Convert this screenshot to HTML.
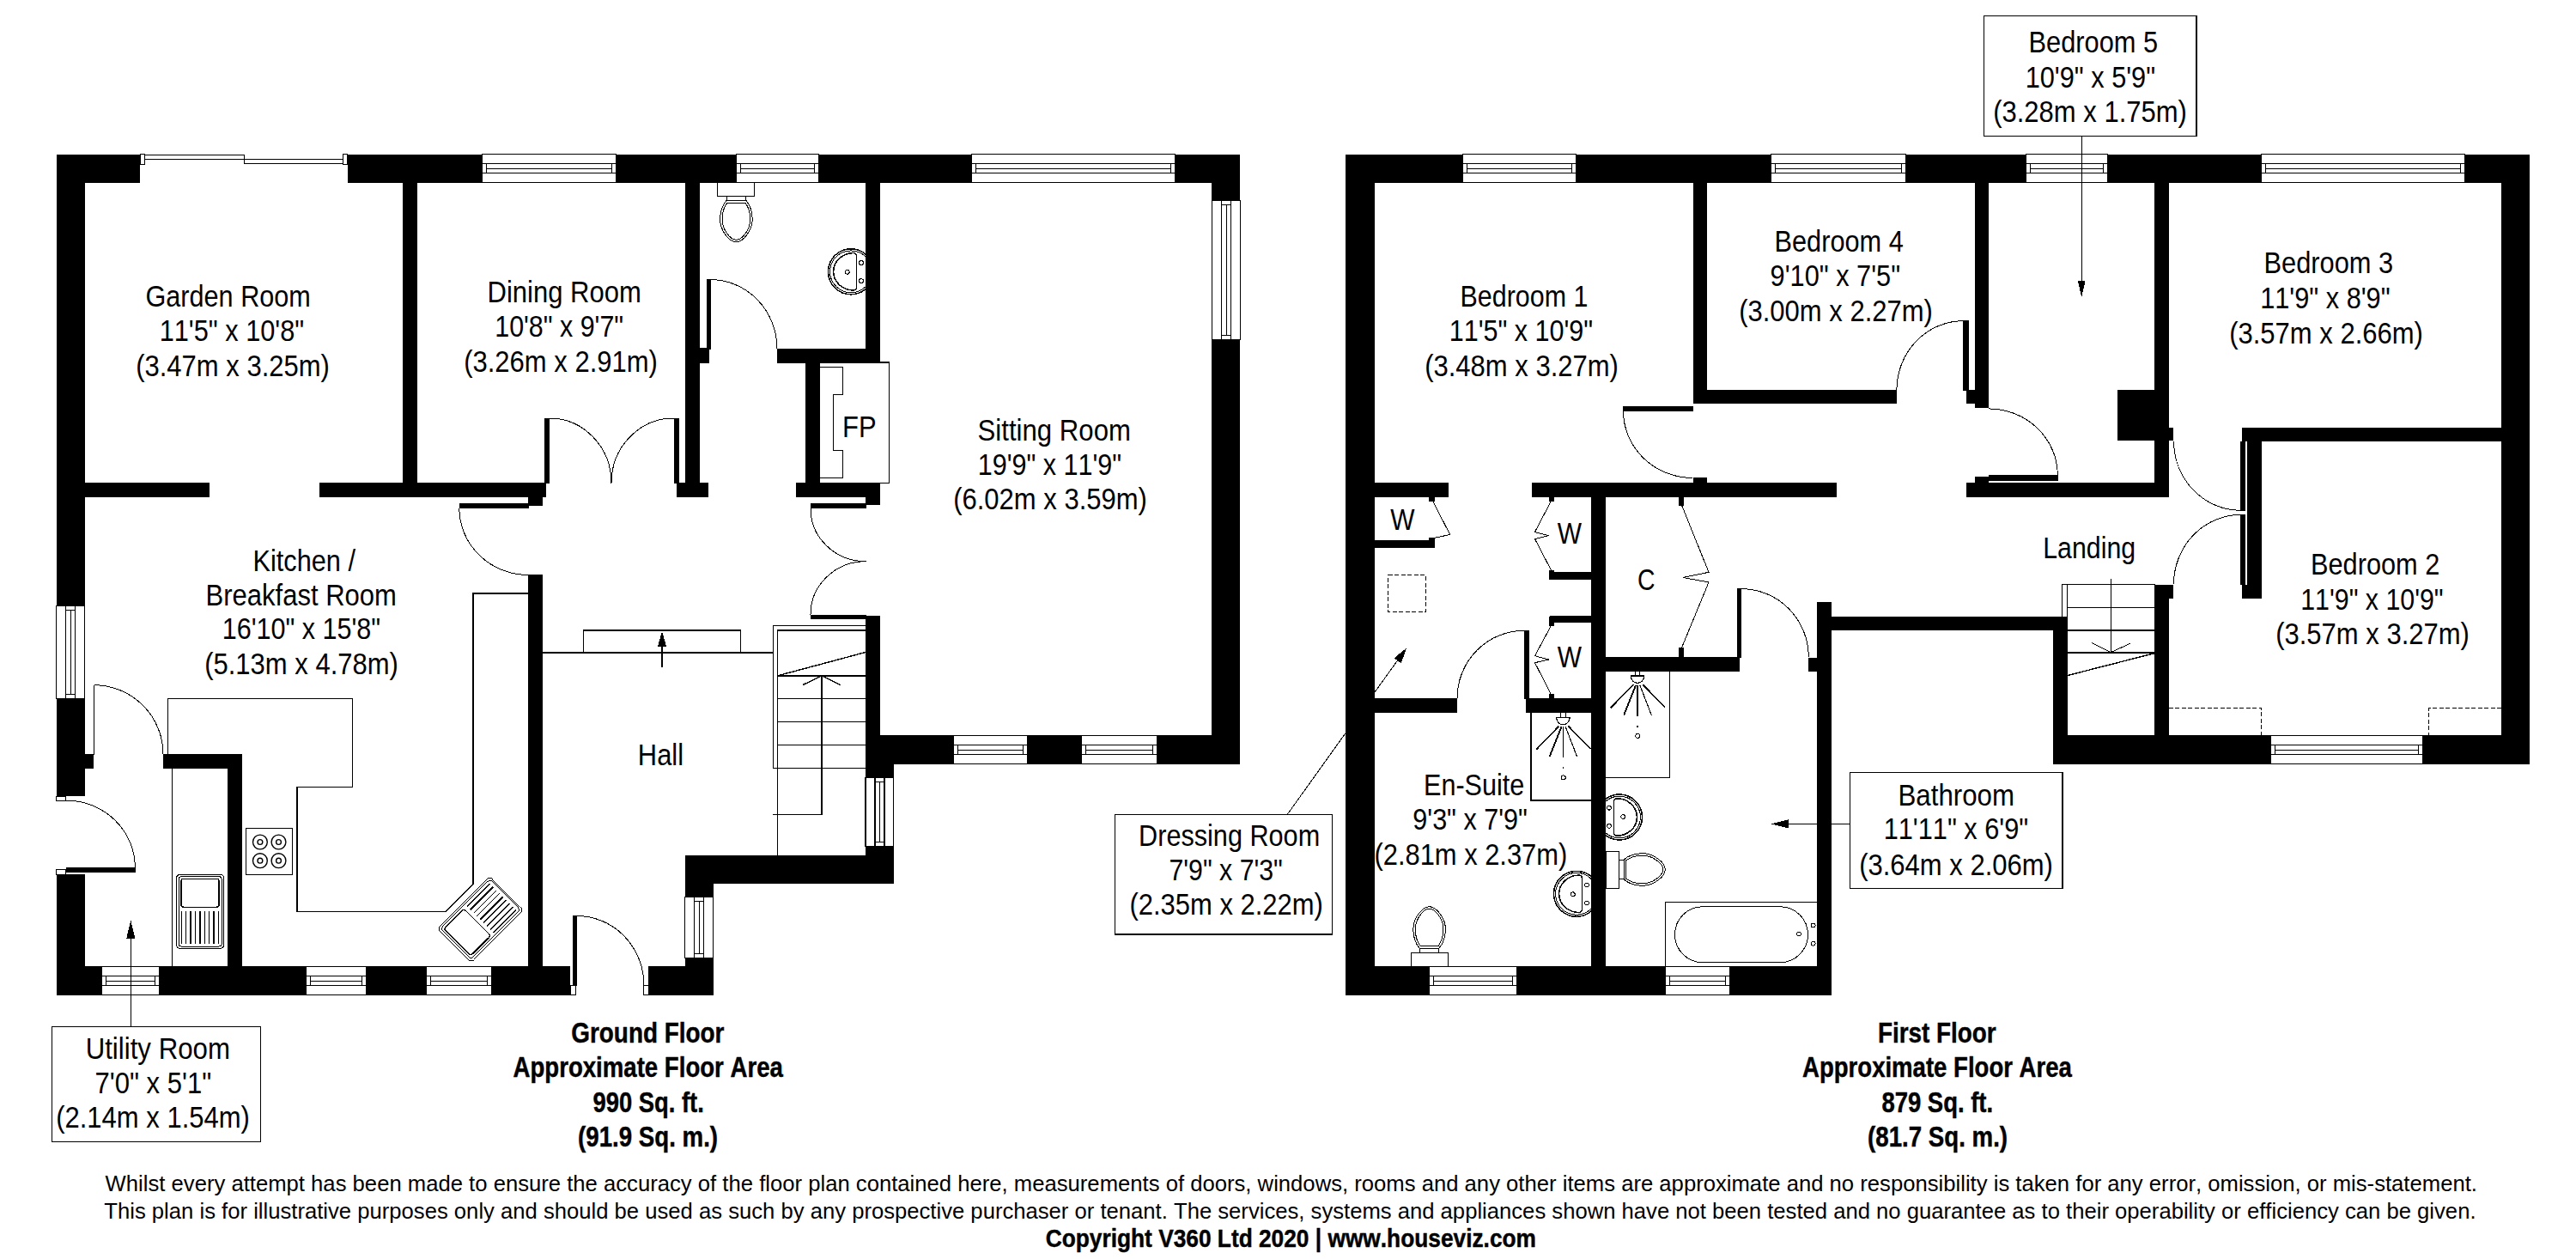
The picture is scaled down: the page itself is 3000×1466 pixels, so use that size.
<!DOCTYPE html>
<html><head><meta charset="utf-8"><title>Floor Plan</title>
<style>
html,body{margin:0;padding:0;background:#fff;}
body{width:3000px;height:1466px;overflow:hidden;font-family:"Liberation Sans",sans-serif;}
svg{display:block;shape-rendering:crispEdges;font-family:"Liberation Sans",sans-serif;}
.ln{fill:none;stroke:#000;stroke-width:1.4;}
.ln2{fill:none;stroke:#000;stroke-width:1;}
.lf{fill:#000;stroke:none;}
text{fill:#000;font-kerning:none;font-variant-ligatures:none;}
</style></head><body>
<svg width="3000" height="1466" viewBox="0 0 3000 1466">
<rect width="3000" height="1466" fill="#fff"/>
<g fill="#000">
<rect x="66" y="180" width="33" height="526"/>
<rect x="66" y="813" width="33" height="113.5"/>
<rect x="66" y="1018.2" width="33" height="140.8"/>
<rect x="99" y="878" width="10" height="17"/>
<rect x="66" y="180" width="97" height="33"/>
<rect x="405" y="180" width="157" height="33"/>
<rect x="717" y="180" width="140" height="33"/>
<rect x="954" y="180" width="177" height="33"/>
<rect x="1368" y="180" width="76" height="33"/>
<rect x="1411" y="180" width="33" height="54"/>
<rect x="1411" y="395" width="33" height="495"/>
<rect x="1008" y="856" width="436" height="34"/>
<rect x="1008" y="717" width="17" height="139"/>
<rect x="1007.5" y="890" width="33.5" height="138"/>
<rect x="798" y="996.2" width="243" height="32.6"/>
<rect x="798" y="1028" width="33" height="131"/>
<rect x="66" y="1125" width="598" height="34"/>
<rect x="755" y="1125" width="76" height="34"/>
<rect x="469" y="213" width="16.5" height="350"/>
<rect x="99" y="562" width="145" height="17"/>
<rect x="372" y="562" width="264" height="17"/>
<rect x="798" y="213" width="17" height="350"/>
<rect x="787.5" y="562" width="37.5" height="17"/>
<rect x="815" y="405" width="10" height="16"/>
<rect x="1008" y="213" width="17" height="208"/>
<rect x="905" y="406" width="120" height="15"/>
<rect x="938" y="421" width="16.5" height="141"/>
<rect x="927" y="562" width="98" height="17"/>
<rect x="1008" y="579" width="17" height="9"/>
<rect x="615" y="669" width="17" height="456"/>
<rect x="190" y="878" width="92" height="17"/>
<rect x="265" y="878" width="17" height="247"/>
</g>
<g fill="#000">
<rect x="1567" y="180" width="34" height="979"/>
<rect x="1567" y="180" width="1379" height="33"/>
<rect x="2913" y="180" width="33" height="710"/>
<rect x="2391" y="856" width="555" height="34"/>
<rect x="1567" y="1125" width="566" height="34"/>
<rect x="2116" y="701" width="17" height="458"/>
<rect x="2116" y="717.5" width="292" height="16.5"/>
<rect x="2391" y="717.5" width="17" height="172.5"/>
<rect x="2509" y="680.5" width="17" height="175.5"/>
<rect x="2525.5" y="681" width="5.5" height="15.5"/>
<rect x="1971.5" y="213" width="16.0" height="257"/>
<rect x="1971.5" y="454" width="237.0" height="16"/>
<rect x="1971.5" y="556" width="16.0" height="6"/>
<rect x="2299.5" y="213" width="16.0" height="262"/>
<rect x="2289.5" y="454" width="10.0" height="16"/>
<rect x="2509" y="213" width="17" height="366"/>
<rect x="2466" y="454" width="44" height="59"/>
<rect x="2525.5" y="497.5" width="5.5" height="15.5"/>
<rect x="2289.5" y="562" width="236.0" height="17"/>
<rect x="2299.5" y="555" width="16.0" height="7"/>
<rect x="2612" y="497.5" width="301" height="16.5"/>
<rect x="2617" y="497.5" width="17" height="199.0"/>
<rect x="1601" y="562" width="86" height="17"/>
<rect x="1784" y="562" width="355" height="17"/>
<rect x="1853" y="579" width="17" height="546"/>
<rect x="1601" y="629" width="69" height="8.5"/>
<rect x="1805" y="666" width="48" height="8"/>
<rect x="1805" y="717" width="48" height="8"/>
<rect x="1870" y="765" width="156" height="16.5"/>
<rect x="1601" y="813" width="96" height="17"/>
<rect x="1777" y="813" width="77" height="17"/>
<rect x="2106" y="766" width="10" height="15.5"/>
</g>
<g class="ln"><rect x="561.5" y="179.5" width="156" height="33" fill="#fff"/><path d="M561 190.7H718M561 201.6H718M566.5 190.7V201.6M712.5 190.7V201.6M566.5 196.2H712.5"/></g>
<g class="ln"><rect x="857.5" y="179.5" width="96" height="33" fill="#fff"/><path d="M857 190.7H954M857 201.6H954M862.5 190.7V201.6M948.5 190.7V201.6M862.5 196.2H948.5"/></g>
<g class="ln"><rect x="1131.5" y="179.5" width="237" height="33" fill="#fff"/><path d="M1131 190.7H1369M1131 201.6H1369M1136.5 190.7V201.6M1363.5 190.7V201.6M1136.5 196.2H1363.5"/></g>
<g class="ln"><rect x="1411.5" y="233.5" width="33" height="162" fill="#fff"/><path d="M1422.7 233V396M1433.6 233V396M1422.7 238.5H1433.6M1422.7 390.5H1433.6M1428.2 238.5V390.5"/></g>
<g class="ln"><rect x="65.5" y="705.5" width="33" height="108" fill="#fff"/><path d="M76.7 705V814M87.6 705V814M76.7 710.5H87.6M76.7 808.5H87.6M82.2 710.5V808.5"/></g>
<g class="ln"><rect x="118.5" y="1125.5" width="67" height="33" fill="#fff"/><path d="M118 1136.7H186M118 1147.6H186M123.5 1136.7V1147.6M180.5 1136.7V1147.6M123.5 1142.2H180.5"/></g>
<g class="ln"><rect x="356.5" y="1125.5" width="70" height="33" fill="#fff"/><path d="M356 1136.7H427M356 1147.6H427M361.5 1136.7V1147.6M421.5 1136.7V1147.6M361.5 1142.2H421.5"/></g>
<g class="ln"><rect x="496.5" y="1125.5" width="76" height="33" fill="#fff"/><path d="M496 1136.7H573M496 1147.6H573M501.5 1136.7V1147.6M567.5 1136.7V1147.6M501.5 1142.2H567.5"/></g>
<g class="ln"><rect x="1110.5" y="856.5" width="86" height="33" fill="#fff"/><path d="M1110 867.7H1197M1110 878.6H1197M1115.5 867.7V878.6M1191.5 867.7V878.6M1115.5 873.2H1191.5"/></g>
<g class="ln"><rect x="1259.5" y="856.5" width="88" height="33" fill="#fff"/><path d="M1259 867.7H1348M1259 878.6H1348M1264.5 867.7V878.6M1342.5 867.7V878.6M1264.5 873.2H1342.5"/></g>
<g class="ln"><rect x="1008.0" y="905.5" width="32.5" height="80" fill="#fff"/><path d="M1019.1 905V986M1029.8 905V986M1019.1 910.5H1029.8M1019.1 980.5H1029.8M1024.4 910.5V980.5"/></g>
<g class="ln"><rect x="797.5" y="1044.5" width="33" height="71" fill="#fff"/><path d="M808.7 1044V1116M819.6 1044V1116M808.7 1049.5H819.6M808.7 1110.5H819.6M814.2 1049.5V1110.5"/></g>
<g class="ln"><rect x="1703.5" y="179.5" width="132" height="33" fill="#fff"/><path d="M1703 190.7H1836M1703 201.6H1836M1708.5 190.7V201.6M1830.5 190.7V201.6M1708.5 196.2H1830.5"/></g>
<g class="ln"><rect x="2062.5" y="179.5" width="157" height="33" fill="#fff"/><path d="M2062 190.7H2220M2062 201.6H2220M2067.5 190.7V201.6M2214.5 190.7V201.6M2067.5 196.2H2214.5"/></g>
<g class="ln"><rect x="2359.5" y="179.5" width="95" height="33" fill="#fff"/><path d="M2359 190.7H2455M2359 201.6H2455M2364.5 190.7V201.6M2449.5 190.7V201.6M2364.5 196.2H2449.5"/></g>
<g class="ln"><rect x="2633.5" y="179.5" width="237" height="33" fill="#fff"/><path d="M2633 190.7H2871M2633 201.6H2871M2638.5 190.7V201.6M2865.5 190.7V201.6M2638.5 196.2H2865.5"/></g>
<g class="ln"><rect x="2644.5" y="856.5" width="177" height="33" fill="#fff"/><path d="M2644 867.7H2822M2644 878.6H2822M2649.5 867.7V878.6M2816.5 867.7V878.6M2649.5 873.2H2816.5"/></g>
<g class="ln"><rect x="1664.5" y="1125.5" width="102" height="33" fill="#fff"/><path d="M1664 1136.7H1767M1664 1147.6H1767M1669.5 1136.7V1147.6M1761.5 1136.7V1147.6M1669.5 1142.2H1761.5"/></g>
<g class="ln"><rect x="1939.5" y="1125.5" width="75" height="33" fill="#fff"/><path d="M1939 1136.7H2015M1939 1147.6H2015M1944.5 1136.7V1147.6M2009.5 1136.7V1147.6M1944.5 1142.2H2009.5"/></g>
<g class="ln2" fill="#fff"><rect x="163.5" y="179.5" width="5" height="11.5"/><rect x="399.5" y="179.5" width="5" height="11.5"/><rect x="168.5" y="180.5" width="116" height="4.5"/><rect x="284.5" y="185" width="115" height="5.5"/></g>
<rect class="lf" x="633.5" y="486.5" width="6.5" height="76.5"/>
<rect class="lf" x="784.5" y="486.5" width="6.0" height="76.5"/>
<path class="ln2" d="M640 487A72 75.5 0 0 1 712 562.5"/>
<path class="ln2" d="M784.5 487A72.5 75.5 0 0 0 712 562.5"/>
<rect class="lf" x="534.5" y="586" width="81.5" height="6"/>
<path class="ln2" d="M534.8 592A80.5 78 0 0 0 615.5 669.5"/>
<rect class="lf" x="822.5" y="325" width="5.25" height="82"/>
<path class="ln2" d="M827 325.5A78 80.5 0 0 1 905 406"/>
<rect class="lf" x="943.5" y="586" width="65.0" height="6"/>
<rect class="lf" x="943.5" y="715.5" width="65.0" height="5.0"/>
<path class="ln2" d="M944 592A64.5 61.5 0 0 0 1008.5 653.7"/>
<path class="ln2" d="M944 715.5A64.5 61.5 0 0 1 1008.5 653.7"/>
<path class="ln" d="M109.5 797.5V878.5" />
<path class="ln2" d="M109.5 797.7A80.5 80.5 0 0 1 190 878.3"/>
<rect class="lf" x="76.75" y="1010" width="80.75" height="5.5"/>
<path class="ln2" d="M157.3 1010A80.5 78 0 0 0 76.75 932"/>
<g class="ln2" fill="#fff"><rect x="65.5" y="927" width="11" height="5.5"/><rect x="65.5" y="1012.5" width="11" height="5.5"/></g>
<rect class="lf" x="666.5" y="1066" width="5.5" height="82"/>
<path class="ln2" d="M672 1066.5A78 81 0 0 1 750 1147.5"/>
<g class="ln2" fill="#fff"><rect x="664.5" y="1147.5" width="5.5" height="11"/><rect x="749.5" y="1147.5" width="5.5" height="11"/></g>
<path class="ln" d="M1025 422H1035.3V562.5H1025" />
<path class="ln2" d="M955 427.7H981.3V459.8H970.5V524.5H981.3V556.3H955" />
<rect class="lf" x="632" y="759" width="268" height="2"/><rect class="lf" x="679" y="733" width="184" height="2"/>
<path class="ln2" d="M679.5 759.5V733.5M862.5 733.5V759.5" />
<path class="ln" d="M771 776.5V750" />
<path class="lf" d="M771 735L766 752.5H776Z"/>
<path class="ln2" d="M900.3 894.5V728.5H1008" />
<path class="ln2" d="M905.5 996V734.5" />
<rect class="lf" x="905" y="733" width="103" height="2"/>
<path class="ln2" d="M900.3 894.5H1008M905.8 867.5H1008M905.8 840.5H1008M905.8 813.7H1008" />
<rect class="lf" x="905" y="786" width="103" height="2"/>
<path class="ln" d="M905.8 786.8L1008 759.5" stroke-width="1.8"/>
<path class="ln" d="M900 948.3H957V786.8M935 797.5L957 786.8L978.8 797.5" />
<path class="ln" d="M195.5 878V813.3H410.5V916.3H345.8V1061.5H518.8L550.8 1029.3V690.8H615" />
<path class="ln2" d="M200.5 895V1125" />
<g class="ln" shape-rendering="geometricPrecision"><rect x="286.5" y="964.5" width="54" height="54" shape-rendering="crispEdges"/><circle cx="302.9" cy="980.5" r="8.4"/><circle cx="302.9" cy="980.5" r="2.9"/><circle cx="324.5" cy="980.5" r="8.4"/><circle cx="324.5" cy="980.5" r="2.9"/><circle cx="302.9" cy="1002.2" r="8.4"/><circle cx="302.9" cy="1002.2" r="2.9"/><circle cx="324.5" cy="1002.2" r="8.4"/><circle cx="324.5" cy="1002.2" r="2.9"/></g>
<g transform="translate(233.1,1061.4) rotate(0)" class="ln2"><rect x="-27.875" y="-43.3" width="55.75" height="86.6" rx="5" fill="#fff"/><rect x="-25.075" y="-40.699999999999996" width="50.15" height="81.39999999999999" rx="3.5"/><rect x="-22.075" y="-38.099999999999994" width="44.15" height="33" rx="3" stroke-width="1.4"/><path d="M-21.6 -0.29999999999999716V37.3" stroke-width="1.1"/><path d="M-16.6 -0.29999999999999716V37.3" stroke-width="1.1"/><path d="M-11.2 -0.29999999999999716V37.3" stroke-width="1.9"/><path d="M-5.6 -0.29999999999999716V37.3" stroke-width="1.1"/><path d="M-0.2 -0.29999999999999716V37.3" stroke-width="1.9"/><path d="M5.4 -0.29999999999999716V37.3" stroke-width="1.1"/><path d="M10.6 -0.29999999999999716V37.3" stroke-width="1.1"/><path d="M15.9 -0.29999999999999716V37.3" stroke-width="1.9"/><path d="M21.3 -0.29999999999999716V37.3" stroke-width="1.1"/></g>
<g transform="translate(559.5,1070.3) rotate(225)" class="ln2"><rect x="-27.875" y="-43.3" width="55.75" height="86.6" rx="5" fill="#fff"/><rect x="-25.075" y="-40.699999999999996" width="50.15" height="81.39999999999999" rx="3.5"/><rect x="-22.075" y="-38.099999999999994" width="44.15" height="33" rx="3" stroke-width="1.4"/><path d="M-21.6 -0.29999999999999716V37.3" stroke-width="1.1"/><path d="M-16.6 -0.29999999999999716V37.3" stroke-width="1.1"/><path d="M-11.2 -0.29999999999999716V37.3" stroke-width="1.9"/><path d="M-5.6 -0.29999999999999716V37.3" stroke-width="1.1"/><path d="M-0.2 -0.29999999999999716V37.3" stroke-width="1.9"/><path d="M5.4 -0.29999999999999716V37.3" stroke-width="1.1"/><path d="M10.6 -0.29999999999999716V37.3" stroke-width="1.1"/><path d="M15.9 -0.29999999999999716V37.3" stroke-width="1.9"/><path d="M21.3 -0.29999999999999716V37.3" stroke-width="1.1"/></g>
<path class="ln2" d="M152.5 1195V1090" />
<path class="lf" d="M152.3 1071.5L147.3 1092.5H157.3Z"/>
<g transform="translate(857.4,212.5) rotate(0)" class="ln2"><rect x="-21.5" y="0" width="43" height="15.5"/><path d="M-10.8 15.5V21.5M10.8 15.5V21.5"/><path d="M-11.5 21 C-16.5 27 -18.8 34 -18.8 43 C-18.8 56 -8 69.3 0 69.3 C8 69.3 18.8 56 18.8 43 C18.8 34 16.5 27 11.5 21 Z"/><path d="M-10.5 23.5 C-14.5 29 -16.4 35.5 -16.4 43 C-16.4 54.5 -7 66.8 0 66.8 C7 66.8 16.4 54.5 16.4 43 C16.4 35.5 14.5 29 10.5 23.5 Z"/></g>
<clipPath id="bc1"><rect x="-40" y="-40" width="57" height="80"/></clipPath><g transform="translate(991,316.3) rotate(0)" class="ln2" clip-path="url(#bc1)"><circle cx="0" cy="0" r="26.5" stroke-width="1.5"/><circle cx="0" cy="0" r="24.4"/><path d="M6.6 -17.5V17.5Q6.6 21.5 3 21.7A23.4 21.7 0 0 1 3 -21.7Q6.6 -21.5 6.6 -17.5Z" stroke-width="1.5"/><circle cx="-4.2" cy="0.5" r="2.4"/><circle cx="12" cy="-10.3" r="2.4"/><circle cx="12" cy="10.8" r="2.4"/></g>
<g fill="#000">
<rect x="615" y="579" width="17" height="10"/>
<rect x="905" y="406" width="120" height="17"/>
<rect x="815" y="406" width="11" height="17"/>
</g>
<rect class="lf" x="1890" y="473" width="81.5" height="5.75"/>
<path class="ln2" d="M1890.5 478.5A81 78 0 0 0 1971.3 556.5"/>
<rect class="lf" x="2286.25" y="373.25" width="6.25" height="81.25"/>
<path class="ln2" d="M2286.5 373.7A77.5 80.5 0 0 0 2208.9 454"/>
<rect class="lf" x="2315.75" y="553" width="81.0" height="6.5"/>
<path class="ln2" d="M2396.3 553A80.5 77.3 0 0 0 2315.75 475.9"/>
<rect class="lf" x="2609" y="513.5" width="6" height="81.0"/>
<rect class="lf" x="2609" y="599.2" width="6" height="81.3"/>
<path class="ln2" d="M2531.5 513.6A78 81 0 0 0 2609.3 594.3"/>
<path class="ln2" d="M2531.5 680.3A78 81 0 0 1 2609.3 599.4"/>
<g fill="#000">
<rect x="2611" y="497.5" width="6" height="16.5"/>
<rect x="2611" y="680.5" width="6" height="16.0"/>
</g>
<rect class="lf" x="1775" y="733.75" width="5.5" height="79.75"/>
<path class="ln2" d="M1775.3 734.2A78.3 79 0 0 0 1697 813"/>
<rect class="lf" x="2022.5" y="685" width="5.5" height="80.5"/>
<path class="ln2" d="M2027.8 685.6A78.5 79.5 0 0 1 2106.3 765"/>
<g fill="#000">
<rect x="1663.75" y="578.75" width="7.0" height="5.0"/>
<rect x="1663.75" y="626.25" width="7.0" height="5.25"/>
<rect x="1601" y="631.25" width="69.75" height="6.75"/>
<rect x="1803.75" y="578.75" width="6.25" height="5.0"/>
<rect x="1803.75" y="663.75" width="6.25" height="5.25"/>
<rect x="1803.75" y="668.75" width="49.75" height="6.25"/>
<rect x="1803.75" y="717.5" width="49.75" height="6.25"/>
<rect x="1803.75" y="723.75" width="6.25" height="5.0"/>
<rect x="1803.75" y="808.25" width="6.25" height="5.25"/>
<rect x="1955" y="578.75" width="6.25" height="10.0"/>
<rect x="1955" y="753.75" width="6.25" height="11.75"/>
</g>
<path class="ln2" d="M1668.7 583.7L1688.7 622.5L1670.7 626.3" />
<path class="ln2" d="M1806.3 583.7L1787.5 619.5L1803.7 623.7L1787.5 627.5L1806.3 663.7" />
<path class="ln2" d="M1806.3 728.7L1787.5 763.7L1803.7 768L1787.5 771.7L1806.3 808.3" />
<path class="ln2" d="M1958.7 588.7L1990 666.3L1960 672.5L1990 678L1958.7 753.7" />
<rect class="ln2" x="1616.5" y="669.5" width="43.5" height="43" stroke-dasharray="5 2.5"/>
<path class="ln2" d="M2525.5 824.5H2633.5V856M2913 824.5H2828.5V856" stroke-dasharray="5 2.5"/>
<path class="ln2" d="M1499.3 948.3L1567.5 853" />
<path class="ln2" d="M1601 806L1628 768.5" />
<path class="lf" d="M1638.3 754.3L1623.6 766.3L1631.8 772.2Z"/>
<rect class="lf" x="1782" y="830" width="2" height="103"/>
<path class="ln" d="M1783 932H1853" />
<g class="ln2"><path d="M1817.6000000000001 830V835.5M1823.2 830V835.5" stroke-width="1"/><path d="M1812.0 835.5H1828.8000000000002" stroke-width="1.2"/><path d="M1812.6000000000001 835.5C1813.2 840.5 1816.4 843.8 1820.4 843.8C1824.4 843.8 1827.6000000000001 840.5 1828.2 835.5" stroke-width="1.3"/><path d="M1815.6000000000001 845.6L1789.1000000000001 872.7M1818.4 846.4L1804.6000000000001 881.2M1826.4 845.6L1852.6000000000001 872.3" stroke-width="1.8"/><path d="M1820.4 846.4V882.2M1823.2 846.4L1836.7 881.2" stroke-width="1.1"/><circle cx="1820.7" cy="905.4" r="2.5"/><rect x="1819.8000000000002" y="893" width="1.3" height="2.2" class="lf"/></g>
<path class="ln2" d="M1944.5 781.5V905.5H1870" />
<g class="ln2"><path d="M1904.2 781.5V787.0M1909.8 781.5V787.0" stroke-width="1"/><path d="M1898.6 787.0H1915.4" stroke-width="1.2"/><path d="M1899.2 787.0C1899.8 792.0 1903 795.3 1907 795.3C1911 795.3 1914.2 792.0 1914.8 787.0" stroke-width="1.3"/><path d="M1902.2 797.1L1875.7 824.2M1905 797.9L1891.2 832.7M1913 797.1L1939.2 823.8" stroke-width="1.8"/><path d="M1907 797.9V833.7M1909.8 797.9L1923.3 832.7" stroke-width="1.1"/><circle cx="1907.3" cy="856.9" r="2.5"/><rect x="1906.4" y="844.5" width="1.3" height="2.2" class="lf"/></g>
<g transform="translate(1664.6,1125) rotate(180)" class="ln2"><rect x="-21.5" y="0" width="43" height="15.5"/><path d="M-10.8 15.5V21.5M10.8 15.5V21.5"/><path d="M-11.5 21 C-16.5 27 -18.8 34 -18.8 43 C-18.8 56 -8 69.3 0 69.3 C8 69.3 18.8 56 18.8 43 C18.8 34 16.5 27 11.5 21 Z"/><path d="M-10.5 23.5 C-14.5 29 -16.4 35.5 -16.4 43 C-16.4 54.5 -7 66.8 0 66.8 C7 66.8 16.4 54.5 16.4 43 C16.4 35.5 14.5 29 10.5 23.5 Z"/></g>
<g transform="translate(1870,1012.5) rotate(270)" class="ln2"><rect x="-21.5" y="0" width="43" height="15.5"/><path d="M-10.8 15.5V21.5M10.8 15.5V21.5"/><path d="M-11.5 21 C-16.5 27 -18.8 34 -18.8 43 C-18.8 56 -8 69.3 0 69.3 C8 69.3 18.8 56 18.8 43 C18.8 34 16.5 27 11.5 21 Z"/><path d="M-10.5 23.5 C-14.5 29 -16.4 35.5 -16.4 43 C-16.4 54.5 -7 66.8 0 66.8 C7 66.8 16.4 54.5 16.4 43 C16.4 35.5 14.5 29 10.5 23.5 Z"/></g>
<clipPath id="bc2"><rect x="-40" y="-40" width="57.25" height="80"/></clipPath><g transform="translate(1836,1040.8) rotate(0)" class="ln2" clip-path="url(#bc2)"><circle cx="0" cy="0" r="26.5" stroke-width="1.5"/><circle cx="0" cy="0" r="24.4"/><path d="M6.6 -17.5V17.5Q6.6 21.5 3 21.7A23.4 21.7 0 0 1 3 -21.7Q6.6 -21.5 6.6 -17.5Z" stroke-width="1.5"/><circle cx="-4.2" cy="0.5" r="2.4"/><circle cx="12" cy="-10.3" r="2.4"/><circle cx="12" cy="10.8" r="2.4"/></g>
<clipPath id="bc3"><rect x="-40" y="-40" width="56" height="80"/></clipPath><g transform="translate(1886,951.5) rotate(180)" class="ln2" clip-path="url(#bc3)"><circle cx="0" cy="0" r="26.5" stroke-width="1.5"/><circle cx="0" cy="0" r="24.4"/><path d="M6.6 -17.5V17.5Q6.6 21.5 3 21.7A23.4 21.7 0 0 1 3 -21.7Q6.6 -21.5 6.6 -17.5Z" stroke-width="1.5"/><circle cx="-4.2" cy="0.5" r="2.4"/><circle cx="12" cy="-10.3" r="2.4"/><circle cx="12" cy="10.8" r="2.4"/></g>
<g class="ln2"><path d="M2116 1050.5H1939.5V1125" class="ln"/><rect x="1950.5" y="1055.7" width="155" height="65" rx="32.5"/><circle cx="2095" cy="1087.5" r="2.4"/><circle cx="2111.7" cy="1077.5" r="2.4"/><circle cx="2111.7" cy="1098.7" r="2.4"/></g>
<path class="ln" d="M2154.5 959.3H2080" />
<path class="lf" d="M2062.5 959.3L2082.5 954.3V964.3Z"/>
<path class="ln2" d="M2424 158.5V330" />
<path class="lf" d="M2424.2 346L2419.7 326.5H2428.7Z"/>
<path class="ln2" d="M2401.8 717.5V680.5H2509.5" />
<path class="ln2" d="M2407.3 717.5V680.5" />
<path class="ln2" d="M2407.5 707.6H2509.5" />
<rect class="lf" x="2407" y="733" width="102" height="2"/><rect class="lf" x="2407" y="759" width="102" height="2"/>
<path class="ln" d="M2407.7 786.6L2509.3 760.6" stroke-width="1.8"/>
<path class="ln2" d="M2458.3 674.2V759.6M2436 748.7L2458.3 759.6L2480.8 749.3" />
<rect class="ln" x="60.5" y="1195.5" width="242.8" height="134.0" fill="#fff"/>
<rect class="ln" x="1298.3" y="948.3" width="253.4" height="139.7" fill="#fff"/>
<rect class="ln" x="2154.5" y="899.7" width="247.5" height="134.6" fill="#fff"/>
<rect class="ln" x="2310.5" y="18.5" width="247.5" height="140.0" fill="#fff"/>
<text transform="translate(169.47,356.5) scale(0.8681,1)" font-size="35.3">Garden Room</text>
<text transform="translate(185.70,396.5) scale(0.8705,1)" font-size="35.3">11'5&quot; x 10'8&quot;</text>
<text transform="translate(158.14,437.5) scale(0.8787,1)" font-size="35.3">(3.47m x 3.25m)</text>
<text transform="translate(567.52,352) scale(0.8794,1)" font-size="35.3">Dining Room</text>
<text transform="translate(576.22,391.5) scale(0.8622,1)" font-size="35.3">10'8&quot; x 9'7&quot;</text>
<text transform="translate(540.14,432.5) scale(0.8787,1)" font-size="35.3">(3.26m x 2.91m)</text>
<text transform="translate(981.02,509) scale(0.8777,1)" font-size="35.3">FP</text>
<text transform="translate(294.55,665) scale(0.8692,1)" font-size="35.3">Kitchen /</text>
<text transform="translate(239.52,705) scale(0.8789,1)" font-size="35.3">Breakfast Room</text>
<text transform="translate(258.71,744) scale(0.8653,1)" font-size="35.3">16'10&quot; x 15'8&quot;</text>
<text transform="translate(238.14,785) scale(0.8787,1)" font-size="35.3">(5.13m x 4.78m)</text>
<text transform="translate(742.83,891.2) scale(0.8756,1)" font-size="35.3">Hall</text>
<text transform="translate(99.66,1233) scale(0.8846,1)" font-size="35.3">Utility Room</text>
<text transform="translate(110.45,1273) scale(0.8799,1)" font-size="35.3">7'0&quot; x 5'1&quot;</text>
<text transform="translate(65.14,1313) scale(0.8787,1)" font-size="35.3">(2.14m x 1.54m)</text>
<text transform="translate(1138.60,513) scale(0.8826,1)" font-size="35.3">Sitting Room</text>
<text transform="translate(1138.71,553) scale(0.8652,1)" font-size="35.3">19'9&quot; x 11'9&quot;</text>
<text transform="translate(1110.14,593) scale(0.8787,1)" font-size="35.3">(6.02m x 3.59m)</text>
<text transform="translate(1700.57,357) scale(0.8619,1)" font-size="35.3">Bedroom 1</text>
<text transform="translate(1687.71,396.5) scale(0.8652,1)" font-size="35.3">11'5&quot; x 10'9&quot;</text>
<text transform="translate(1659.14,437.5) scale(0.8787,1)" font-size="35.3">(3.48m x 3.27m)</text>
<text transform="translate(1619.15,617) scale(0.8483,1)" font-size="35.3">W</text>
<text transform="translate(1813.85,633) scale(0.8483,1)" font-size="35.3">W</text>
<text transform="translate(1813.85,777) scale(0.8483,1)" font-size="35.3">W</text>
<text transform="translate(1907.08,687) scale(0.8030,1)" font-size="35.3">C</text>
<text transform="translate(1658.06,925.7) scale(0.8656,1)" font-size="35.3">En-Suite</text>
<text transform="translate(1645.32,966.2) scale(0.8656,1)" font-size="35.3">9'3&quot; x 7'9&quot;</text>
<text transform="translate(1600.45,1006.5) scale(0.8755,1)" font-size="35.3">(2.81m x 2.37m)</text>
<text transform="translate(2210.50,937.5) scale(0.8851,1)" font-size="35.3">Bathroom</text>
<text transform="translate(2193.70,977) scale(0.8705,1)" font-size="35.3">11'11&quot; x 6'9&quot;</text>
<text transform="translate(2165.14,1018.5) scale(0.8787,1)" font-size="35.3">(3.64m x 2.06m)</text>
<text transform="translate(2362.53,61) scale(0.8729,1)" font-size="35.3">Bedroom 5</text>
<text transform="translate(2358.69,101.5) scale(0.8710,1)" font-size="35.3">10'9&quot; x 5'9&quot;</text>
<text transform="translate(2321.14,142) scale(0.8787,1)" font-size="35.3">(3.28m x 1.75m)</text>
<text transform="translate(2066.54,292.5) scale(0.8702,1)" font-size="35.3">Bedroom 4</text>
<text transform="translate(2061.62,332.5) scale(0.8715,1)" font-size="35.3">9'10&quot; x 7'5&quot;</text>
<text transform="translate(2025.14,373.5) scale(0.8787,1)" font-size="35.3">(3.00m x 2.27m)</text>
<text transform="translate(2636.53,318) scale(0.8729,1)" font-size="35.3">Bedroom 3</text>
<text transform="translate(2632.19,359) scale(0.8710,1)" font-size="35.3">11'9&quot; x 8'9&quot;</text>
<text transform="translate(2596.14,400) scale(0.8787,1)" font-size="35.3">(3.57m x 2.66m)</text>
<text transform="translate(2379.28,649.5) scale(0.8586,1)" font-size="35.3">Landing</text>
<text transform="translate(2691.04,668.5) scale(0.8700,1)" font-size="35.3">Bedroom 2</text>
<text transform="translate(2679.22,709.5) scale(0.8600,1)" font-size="35.3">11'9&quot; x 10'9&quot;</text>
<text transform="translate(2650.14,750) scale(0.8787,1)" font-size="35.3">(3.57m x 3.27m)</text>
<text transform="translate(1326.05,984.5) scale(0.8681,1)" font-size="35.3">Dressing Room</text>
<text transform="translate(1361.49,1025) scale(0.8580,1)" font-size="35.3">7'9&quot; x 7'3&quot;</text>
<text transform="translate(1315.44,1065) scale(0.8775,1)" font-size="35.3">(2.35m x 2.22m)</text>
<text transform="translate(665.33,1214) scale(0.8449,1)" font-size="33" font-weight="bold" stroke="#000" stroke-width="0.45">Ground Floor</text>
<text transform="translate(597.51,1254) scale(0.8368,1)" font-size="33" font-weight="bold" stroke="#000" stroke-width="0.45">Approximate Floor Area</text>
<text transform="translate(690.49,1294.5) scale(0.8302,1)" font-size="33" font-weight="bold" stroke="#000" stroke-width="0.45">990 Sq. ft.</text>
<text transform="translate(673.07,1334.5) scale(0.8388,1)" font-size="33" font-weight="bold" stroke="#000" stroke-width="0.45">(91.9 Sq. m.)</text>
<text transform="translate(2186.89,1214) scale(0.8446,1)" font-size="33" font-weight="bold" stroke="#000" stroke-width="0.45">First Floor</text>
<text transform="translate(2099.01,1254) scale(0.8354,1)" font-size="33" font-weight="bold" stroke="#000" stroke-width="0.45">Approximate Floor Area</text>
<text transform="translate(2191.38,1294.5) scale(0.8326,1)" font-size="33" font-weight="bold" stroke="#000" stroke-width="0.45">879 Sq. ft.</text>
<text transform="translate(2175.07,1334.5) scale(0.8388,1)" font-size="33" font-weight="bold" stroke="#000" stroke-width="0.45">(81.7 Sq. m.)</text>
<text transform="translate(122.57,1386.7) scale(0.9869,1)" font-size="26">Whilst every attempt has been made to ensure the accuracy of the floor plan contained here, measurements of doors, windows, rooms and any other items are approximate and no responsibility is taken for any error, omission, or mis-statement.</text>
<text transform="translate(121.29,1418.7) scale(0.9868,1)" font-size="26">This plan is for illustrative purposes only and should be used as such by any prospective purchaser or tenant. The services, systems and appliances shown have not been tested and no guarantee as to their operability or efficiency can be given.</text>
<text transform="translate(1217.70,1452) scale(0.8913,1)" font-size="29.5" font-weight="bold" stroke="#000" stroke-width="0.45">Copyright V360 Ltd 2020 | www.houseviz.com</text>
</svg>
</body></html>
